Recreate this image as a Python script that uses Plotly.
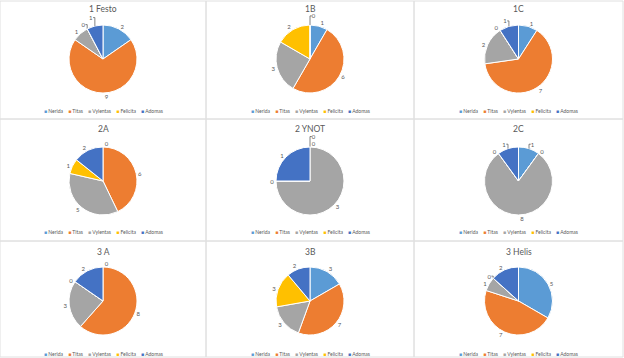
import plotly.graph_objects as go

W, H = 624, 358

categories = ["Nerida", "Titas", "Vylentas", "Felicita", "Adomas"]
colors = ["#5B9BD5", "#ED7D31", "#A5A5A5", "#FFC000", "#4472C4"]

titles = ["1 Festo", "1B", "1C", "2A", "2 YNOT", "2C", "3 A", "3B", "3 Helis"]

festo_1 = [2, 9, 1, 0, 1]
b_1 = [1, 6, 3, 2, 0]
c_1 = [1, 7, 2, 0, 1]
a_2 = [0, 6, 5, 1, 2]
ynot_2 = [0, 0, 3, 0, 1]
c_2 = [1, 0, 8, 0, 1]
a_3 = [0, 8, 3, 0, 2]
b_3 = [3, 7, 3, 3, 2]
helis_3 = [5, 7, 1, 0, 2]

series = [festo_1, b_1, c_1, a_2, ynot_2, c_2, a_3, b_3, helis_3]

# panel layout (pixels)
col_edges = [0, 206, 414, 623]
row_edges = [1, 119, 241, 357]
pie_cy_off = [58, 62, 60]
title_off = [8, 10, 11]
legend_off = [110, 113, 113]
R = 34

fig = go.Figure()
shapes = []
annotations = []

for i, (title, vals) in enumerate(zip(titles, series)):
    r, c = divmod(i, 3)
    x0, x1 = col_edges[c], col_edges[c + 1]
    y0, y1 = row_edges[r], row_edges[r + 1]
    cx = (x0 + x1) / 2
    cy = y0 + pie_cy_off[r]
    fig.add_trace(go.Pie(
        labels=categories, values=vals, sort=False, direction="clockwise",
        rotation=0, textinfo="value", textposition="outside",
        marker=dict(colors=colors, line=dict(color="white", width=1)),
        textfont=dict(size=6, color="#595959", family="Lato"),
        domain=dict(x=[(cx - R) / W, (cx + R) / W],
                    y=[1 - (cy + R) / H, 1 - (cy - R) / H]),
        showlegend=False, hoverinfo="label+value",
    ))
    shapes.append(dict(type="rect", xref="paper", yref="paper",
                       x0=x0 / W, x1=x1 / W, y0=1 - y1 / H, y1=1 - y0 / H,
                       line=dict(color="#E0E0E0", width=1), layer="below"))
    annotations.append(dict(text=title, x=cx / W, y=1 - (y0 + title_off[r]) / H,
                            xref="paper", yref="paper", showarrow=False,
                            xanchor="center", yanchor="middle",
                            font=dict(size=8.5, color="#595959", family="Lato")))
    leg = "&nbsp;&nbsp;&nbsp;&nbsp;".join(
        f"<span style='color:{col}'>■</span> {cat}" for cat, col in zip(categories, colors))
    annotations.append(dict(text=leg, x=cx / W, y=1 - (y0 + legend_off[r]) / H,
                            xref="paper", yref="paper", showarrow=False,
                            xanchor="center", yanchor="middle",
                            font=dict(size=5, color="#595959", family="Lato")))

fig.update_layout(width=W, height=H, margin=dict(l=0, r=0, t=0, b=0),
                  paper_bgcolor="white", plot_bgcolor="white",
                  shapes=shapes, annotations=annotations)

fig.write_html("out.html", config={"displayModeBar": False},
               post_script="document.body.style.margin='0';document.body.style.overflow='hidden';")
